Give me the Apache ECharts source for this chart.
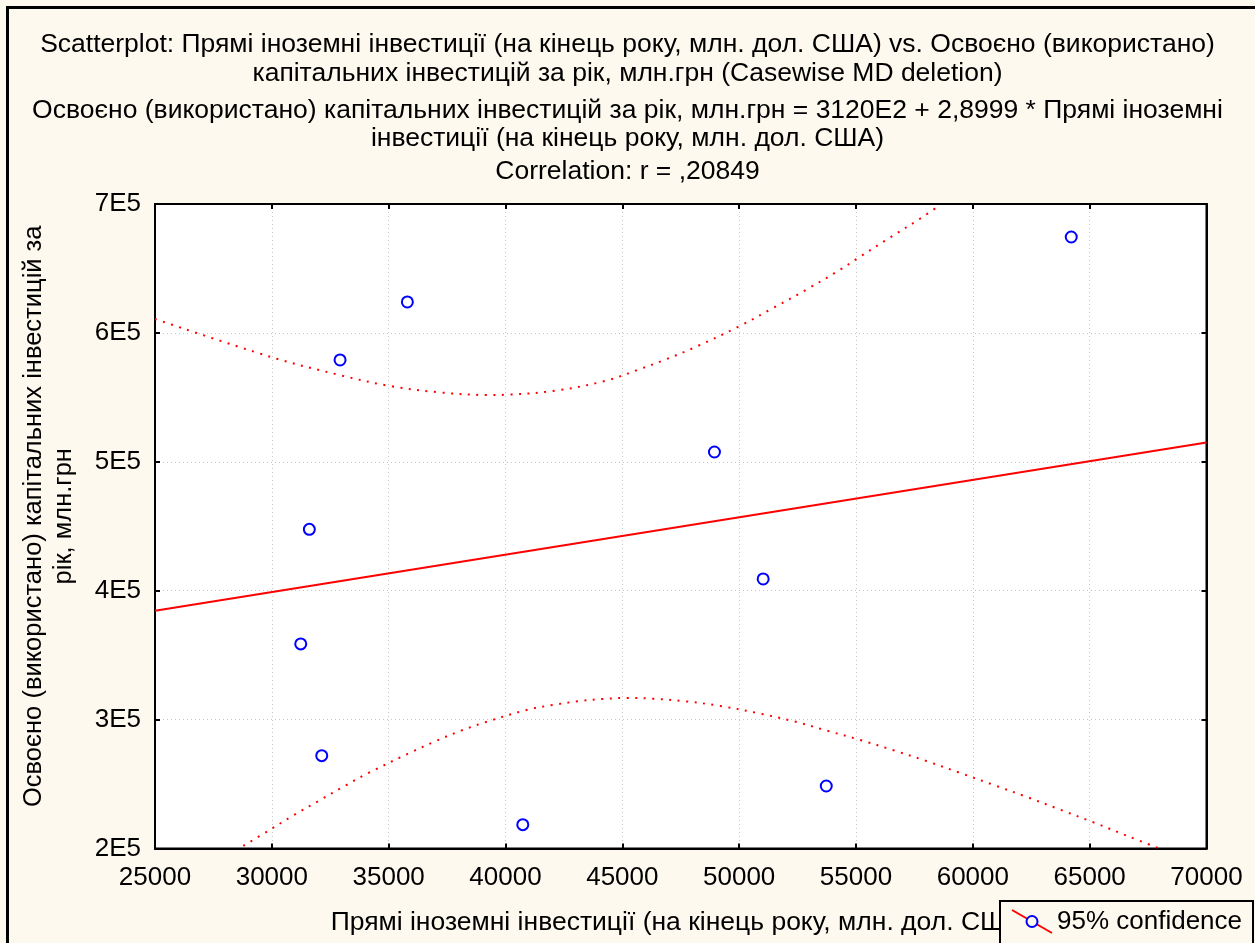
<!DOCTYPE html>
<html>
<head>
<meta charset="utf-8">
<script src="https://cdn.jsdelivr.net/npm/echarts@6/dist/echarts.min.js"></script>
<style>
html,body{margin:0;padding:0;background:#FDF9EE;}
#c{width:1255px;height:943px;}
</style>
</head>
<body>
<div id="c"></div>
<script>
// ---- Data ----
const investX = [35800, 32920, 31605, 31237, 32136, 40740, 48942, 51027, 53728, 64212];
const capitalY = [624000, 579000, 447600, 358700, 272000, 218500, 507600, 409100, 248500, 674400];

// Regression line: y = 3120E2 + 2.8999 * x, end points at the axis limits
const regLine = [[25000, 384500], [70000, 515000]];

// 95% confidence band
const upperBand = [
  [25000, 610800], [30000, 581100], [32900, 567300], [35000, 559000], [37150, 553900],
  [39300, 551800], [40000, 552000], [42150, 555200], [44300, 562900], [45700, 571600],
  [46800, 579000], [48200, 589600], [50000, 605100], [51400, 618800], [52850, 633300],
  [54300, 648800], [55000, 657100], [56400, 673400], [57850, 689900], [58550, 698700]
];
const lowerBand = [
  [28780, 202000], [29880, 214100], [30950, 226000], [32020, 237100], [33090, 248300],
  [34160, 258800], [35950, 274600], [37020, 283400], [38090, 291400], [39160, 298100],
  [40940, 307700], [42010, 311300], [43080, 314200], [44150, 316000], [45220, 316800],
  [46290, 316200], [47690, 314200], [49120, 310800], [50910, 304600], [52330, 298700],
  [53760, 291400], [55180, 284200], [56610, 276200], [58040, 267700], [59460, 258600],
  [60890, 249300], [62310, 240000], [63740, 230100], [65160, 220300], [66590, 209900],
  [68010, 199800]
];

const xRange = {min: 25000, max: 70000, interval: 5000};
const yRange = {min: 200000, max: 700000, interval: 100000};

const titleBlock1 = 'Scatterplot: Прямі іноземні інвестиції (на кінець року, млн. дол. США) vs. Освоєно (використано)\nкапітальних інвестицій за рік, млн.грн (Casewise MD deletion)';
const titleBlock2 = 'Освоєно (використано) капітальних інвестицій за рік, млн.грн = 3120E2 + 2,8999 * Прямі іноземні\nінвестиції (на кінець року, млн. дол. США)';
const titleBlock3 = 'Correlation: r = ,20849';
const xName = 'Прямі іноземні інвестиції (на кінець року, млн. дол. США)';
const yName = 'Освоєно (використано) капітальних інвестицій за\nрік, млн.грн';
const legendLabel = '95% confidence';

const FONT = '"Liberation Sans", Arial, sans-serif';
const pts = investX.map((x, i) => [x, capitalY[i]]);

const chart = echarts.init(document.getElementById('c'), null, {renderer: 'canvas'});

const tickCommon = {show: true, inside: true, length: 5, lineStyle: {color: '#000', width: 2}};
const lineCommon = {show: true, onZero: false, lineStyle: {color: '#000', width: 2}};
const titleStyle = (lh) => ({fontFamily: FONT, fontSize: 26.5, fontWeight: 'normal', color: '#000', lineHeight: lh});

chart.setOption({
  backgroundColor: '#FDF9EE',
  animation: false,
  textStyle: {fontFamily: FONT},
  title: [
    {text: titleBlock1, left: 'center', top: 30, padding: 0, textStyle: titleStyle(29)},
    {text: titleBlock2, left: 'center', top: 97, padding: 0, textStyle: titleStyle(28)},
    {text: titleBlock3, left: 'center', top: 158, padding: 0, textStyle: titleStyle(28)}
  ],
  grid: {left: 155, right: 48.5, top: 204, bottom: 94.5, show: true,
         backgroundColor: '#fff', borderColor: '#000', borderWidth: 2, containLabel: false},
  xAxis: [
    {type: 'value', position: 'bottom', min: xRange.min, max: xRange.max, interval: xRange.interval,
     axisLine: lineCommon, axisTick: tickCommon,
     axisLabel: {color: '#000', fontSize: 26, fontFamily: FONT, margin: 16,
                 showMinLabel: true, showMaxLabel: true, formatter: v => String(v)},
     splitLine: {show: true, lineStyle: {color: '#c4c4c4', width: 1, type: [1, 3]}},
     name: xName, nameLocation: 'middle', nameGap: 61,
     nameTextStyle: {color: '#000', fontSize: 26.5, fontFamily: FONT}},
    {type: 'value', position: 'top', min: xRange.min, max: xRange.max, interval: xRange.interval,
     axisLine: lineCommon, axisTick: tickCommon, axisLabel: {show: false}, splitLine: {show: false}}
  ],
  yAxis: [
    {type: 'value', position: 'left', min: yRange.min, max: yRange.max, interval: yRange.interval,
     axisLine: lineCommon, axisTick: tickCommon,
     axisLabel: {color: '#000', fontSize: 26, fontFamily: FONT, margin: 14,
                 formatter: v => (v / 100000) + 'E5'},
     splitLine: {show: true, lineStyle: {color: '#c4c4c4', width: 1, type: [1, 3]}},
     name: yName, nameLocation: 'middle', nameRotate: 90, nameGap: 76,
     nameTextStyle: {color: '#000', fontSize: 25.5, fontFamily: FONT, lineHeight: 30, align: 'center',
                     padding: [0, 0, 0, 20]}},
    {type: 'value', position: 'right', min: yRange.min, max: yRange.max, interval: yRange.interval,
     axisLine: lineCommon, axisTick: tickCommon, axisLabel: {show: false}, splitLine: {show: false}}
  ],
  series: [
    {type: 'line', name: 'upper', data: upperBand, smooth: 0.35, showSymbol: false, symbol: 'none',
     clip: true, z: 2, lineStyle: {color: '#FF0000', width: 2, type: [2, 6.5]}},
    {type: 'line', name: 'lower', data: lowerBand, smooth: 0.35, showSymbol: false, symbol: 'none',
     clip: true, z: 2, lineStyle: {color: '#FF0000', width: 2, type: [2, 6.5]}},
    {type: 'line', name: 'fit', data: regLine, showSymbol: false, symbol: 'none', clip: true, z: 3,
     lineStyle: {color: '#FF0000', width: 2}},
    {type: 'scatter', name: legendLabel, data: pts, symbol: 'circle', symbolSize: 11, z: 5,
     itemStyle: {color: '#ffffff', borderColor: '#0000FF', borderWidth: 2, opacity: 1}}
  ],
  graphic: [
    {type: 'rect', z: 100, silent: true,
     shape: {x: 7.5, y: 7.5, width: 1400, height: 1100},
     style: {fill: null, stroke: '#000', lineWidth: 3}},
    {type: 'rect', zlevel: 1, z: 200, silent: true, shape: {x: 1000, y: 901, width: 253, height: 60},
     style: {fill: '#FDF9EE', stroke: '#000', lineWidth: 2}},
    {type: 'line', zlevel: 1, z: 201, silent: true, shape: {x1: 1012, y1: 910, x2: 1052, y2: 933},
     style: {stroke: '#FF0000', lineWidth: 2}},
    {type: 'circle', zlevel: 1, z: 202, silent: true, shape: {cx: 1032, cy: 921.5, r: 5.5},
     style: {fill: '#FDF9EE', stroke: '#0000FF', lineWidth: 2}},
    {type: 'text', zlevel: 1, z: 203, silent: true, x: 1057, y: 921.5,
     style: {text: legendLabel, fontSize: 26, fontFamily: FONT, fill: '#000', verticalAlign: 'middle', align: 'left'}}
  ]
});
</script>
</body>
</html>
